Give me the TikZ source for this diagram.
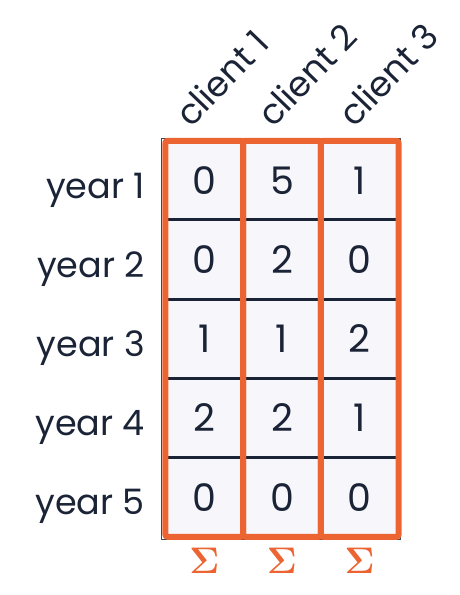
\documentclass[tikz,border=0pt]{standalone}
\usepackage{fix-cm}
\usepackage[no-math]{fontspec}
\setmainfont{Poppins}
\usetikzlibrary{positioning}
\definecolor{tblorange}{HTML}{EC6431}
\definecolor{tblink}{HTML}{1B2436}
\definecolor{tblcell}{HTML}{F6F6FB}

\begin{document}
\begin{tikzpicture}[x=1pt,y=1pt]
\useasboundingbox (0,0) rectangle (459,595);

\begin{scope}[every node/.style={rectangle,fill=tblcell,inner sep=0pt,
              minimum width=77.3pt,minimum height=78.8pt,
              text=tblink,font=\fontsize{38}{40}\selectfont}]
  \node (c11) at (204.3,414.6) {0};
    \node[right=0pt of c11] (c12) {5};
    \node[right=0pt of c12] (c13) {1};
  \node[below=0pt of c11] (c21) {0};
    \node[right=0pt of c21] (c22) {2};
    \node[right=0pt of c22] (c23) {0};
  \node[below=0pt of c21] (c31) {1};
    \node[right=0pt of c31] (c32) {1};
    \node[right=0pt of c32] (c33) {2};
  \node[below=0pt of c31] (c41) {2};
    \node[right=0pt of c41] (c42) {2};
    \node[right=0pt of c42] (c43) {1};
  \node[below=0pt of c41] (c51) {0};
    \node[right=0pt of c51] (c52) {0};
    \node[right=0pt of c52] (c53) {0};
\end{scope}

\begin{scope}[every node/.style={text=tblink,inner sep=0pt,anchor=base east,
              font=\fontsize{35}{40}\selectfont}]
  \node (y1) at (145,396) {year 1};
  \node (y2) at (145,317.2) {year 2};
  \node (y3) at (145,238.4) {year 3};
  \node (y4) at (145,159.6) {year 4};
  \node (y5) at (145,80.8) {year 5};
\end{scope}

\begin{scope}[every node/.style={text=tblink,inner sep=0pt,anchor=base west,
              rotate=46,font=\fontsize{35}{40}\selectfont}]
  \node (k1) at (191,466) {client 1};
  \node (k2) at (273,466) {client 2};
  \node (k3) at (354,466) {client 3};
\end{scope}

\begin{scope}[every path/.style={line join=round}]
  \draw[tblink!85, line width=1pt] ([xshift=-3.5pt,yshift=2pt]c11.north west)
    rectangle ([xshift=2pt,yshift=-2.5pt]c53.south east);
  \draw[tblink, line width=3pt] (c11.south west) -- (c13.south east);
  \draw[tblink, line width=3pt] (c21.south west) -- (c23.south east);
  \draw[tblink, line width=3pt] (c31.south west) -- (c33.south east);
  \draw[tblink, line width=3pt] (c41.south west) -- (c43.south east);
  \draw[tblorange, line width=6pt, rounded corners=2pt] (c11.north west) rectangle (c51.south east);
  \draw[tblorange, line width=6pt, rounded corners=2pt] (c12.north west) rectangle (c52.south east);
  \draw[tblorange, line width=6pt, rounded corners=2pt] (c13.north west) rectangle (c53.south east);
\end{scope}

\begin{scope}[every node/.style={text=tblorange,inner sep=0pt,
              font=\fontsize{37}{40}\selectfont}]
  \node[below=11pt of c51] (s1) {$\mathbf{\Sigma}$};
  \node[below=11pt of c52] (s2) {$\mathbf{\Sigma}$};
  \node[below=11pt of c53] (s3) {$\mathbf{\Sigma}$};
\end{scope}

\end{tikzpicture}
\end{document}
